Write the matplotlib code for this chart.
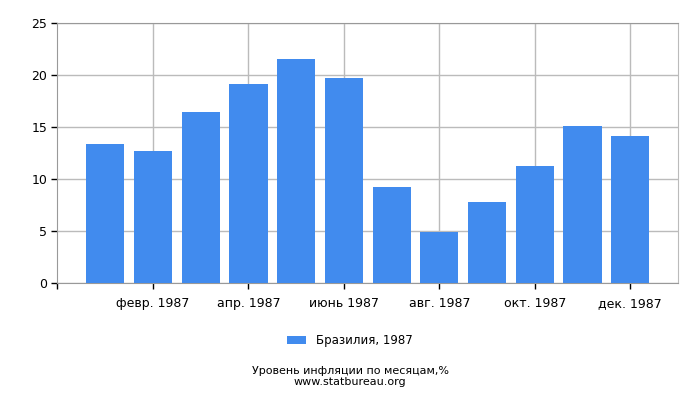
import numpy as np
import matplotlib.pyplot as plt

months = ["янв. 1987", "февр. 1987", "март 1987", "апр. 1987", "май 1987", "июнь 1987",
          "июль 1987", "авг. 1987", "сент. 1987", "окт. 1987", "нояб. 1987", "дек. 1987"]
values = [13.3, 12.7, 16.4, 19.1, 21.5, 19.7, 9.2, 4.9, 7.8, 11.2, 15.1, 14.1]
y_ticks = [0, 5, 10, 15, 20, 25]
series_label = "Бразилия, 1987"

fig = plt.figure(figsize=(7, 4), dpi=100)
ax = fig.add_axes([0.0821, 0.2925, 0.8865, 0.6512])

x = np.arange(len(values))
ax.bar(x, values, width=0.8, color="#418BEE", label=series_label, zorder=3)

ax.set_xlim(-1, len(values))
ax.set_ylim(0, 25)
ax.set_yticks(y_ticks)
ax.set_xticks(x[1::2])
ax.set_xticklabels(months[1::2])
ax.set_xticks([-1], minor=True)
ax.grid(True, color="#BBBBBB", linewidth=1, zorder=0)
ax.tick_params(axis="both", labelsize=9, color="black", length=4, width=1)
ax.tick_params(axis="x", which="minor", color="black", length=4, width=1)
ax.tick_params(axis="x", pad=6)
for name, sp in ax.spines.items():
    sp.set_color("#BBBBBB")
ax.spines["top"].set_color("#999999")
ax.spines["left"].set_color("#999999")
ax.spines["bottom"].set_color("#999999")

fig.legend(loc="center", bbox_to_anchor=(0.5, 0.148), frameon=False, fontsize=8.5,
           handlelength=1.6, handleheight=0.7)
fig.text(0.5, 0.073, "Уровень инфляции по месяцам,%", ha="center", va="center", fontsize=8)
fig.text(0.5, 0.046, "www.statbureau.org", ha="center", va="center", fontsize=8)

fig.savefig("out.png", dpi=100)
